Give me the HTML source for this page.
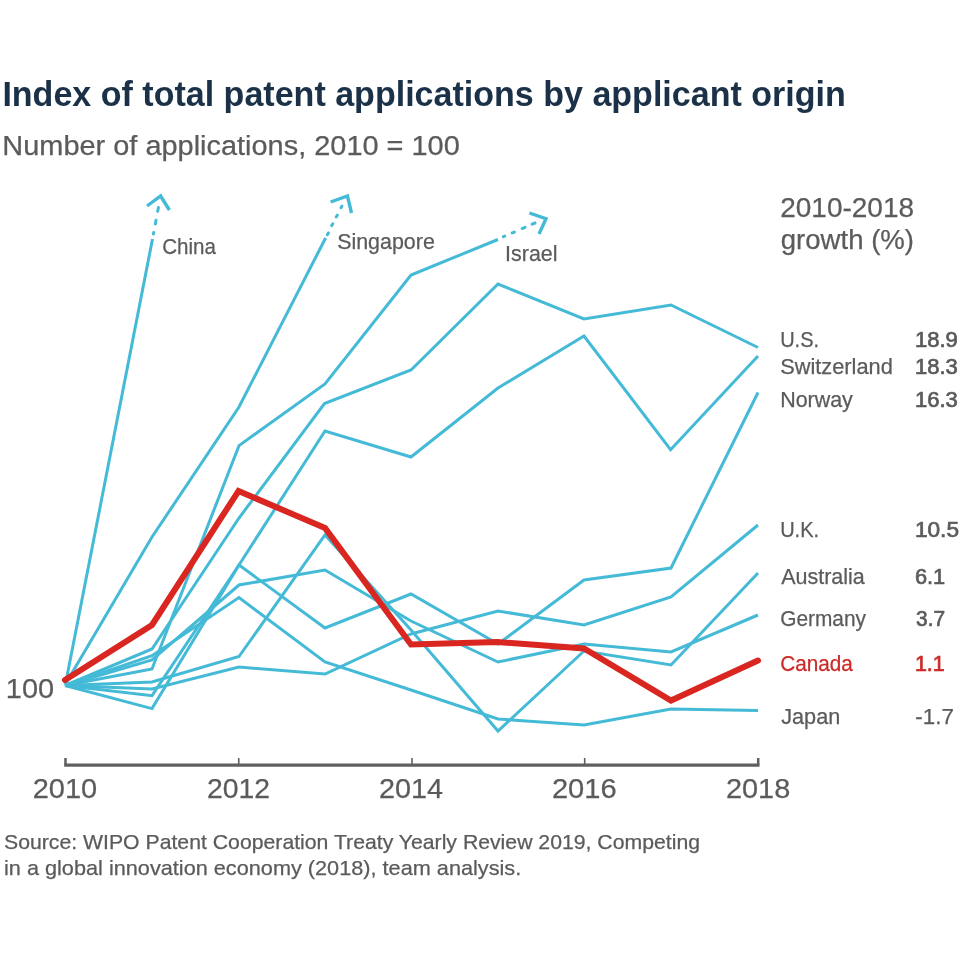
<!DOCTYPE html>
<html><head><meta charset="utf-8"><title>Index of total patent applications by applicant origin</title>
<style>html,body{margin:0;padding:0;background:#fff;width:960px;height:960px;overflow:hidden}svg{display:block;will-change:transform}text{font-family:"Liberation Sans",Arial,sans-serif}</style></head><body>
<svg width="960" height="960" viewBox="0 0 960 960">
<rect width="960" height="960" fill="#fff"/>
<path d="M64.2 765.2H759.5" stroke="#5f5f5f" stroke-width="3.2" fill="none"/>
<path d="M65.5 758V765" stroke="#5f5f5f" stroke-width="2.5" fill="none"/>
<path d="M238.75 758V765" stroke="#5f5f5f" stroke-width="1.6" fill="none"/>
<path d="M412 758V765" stroke="#5f5f5f" stroke-width="1.6" fill="none"/>
<path d="M584.7 758V765" stroke="#5f5f5f" stroke-width="1.6" fill="none"/>
<path d="M758.2 758V765" stroke="#5f5f5f" stroke-width="2.5" fill="none"/>
<g fill="none" stroke="#44bad7" stroke-width="3" stroke-linejoin="miter" stroke-linecap="butt">
<polyline points="65.5,684.0 152.5,239.0"/>
<polyline points="65.5,684.0 152.0,537.0 239.0,407.0 325.6,238.0"/>
<polyline points="65.0,685.5 152.0,669.0 239.0,445.6 325.0,384.0 411.0,275.0 498.0,239.5"/>
<polyline points="65.0,685.5 152.0,649.0 239.0,518.0 324.5,403.5 411.0,370.0 498.0,284.0 584.0,319.0 671.0,305.0 758.0,347.5"/>
<polyline points="65.0,685.5 152.0,695.7 239.0,565.0 325.0,431.0 411.0,457.0 498.0,388.0 584.0,336.0 670.6,449.7 758.0,356.0"/>
<polyline points="65.0,685.5 152.0,708.6 239.0,565.0 325.0,628.0 411.0,594.0 498.0,644.0 584.0,580.0 671.0,568.0 758.0,392.5"/>
<polyline points="65.0,685.5 152.0,689.0 239.0,667.0 325.0,674.0 411.0,634.0 498.0,611.0 584.0,625.0 671.0,597.0 758.0,525.0"/>
<polyline points="65.0,685.5 152.0,682.0 239.0,656.5 325.0,535.0 411.0,630.0 498.0,731.0 584.0,651.0 671.0,665.0 758.0,573.0"/>
<polyline points="65.0,685.5 152.0,660.0 239.0,585.0 325.0,570.0 411.0,621.0 498.0,662.0 584.0,644.0 671.0,652.0 758.0,615.0"/>
<polyline points="65.0,685.5 152.0,655.7 239.0,597.5 325.0,662.0 411.0,690.0 498.0,719.0 584.0,725.0 671.0,709.0 758.0,710.5"/>
<line x1="153.44" y1="234.02" x2="153.71" y2="232.58" stroke-linecap="round"/>
<line x1="155.33" y1="223.92" x2="156.02" y2="220.28" stroke-linecap="round"/>
<line x1="157.70" y1="211.32" x2="158.41" y2="207.58" stroke-linecap="round"/>
<line x1="327.31" y1="234.71" x2="328.49" y2="232.89" stroke-linecap="round"/>
<line x1="331.61" y1="225.61" x2="332.79" y2="223.79" stroke-linecap="round"/>
<line x1="336.21" y1="217.01" x2="337.39" y2="215.19" stroke-linecap="round"/>
<line x1="340.95" y1="207.77" x2="341.95" y2="206.03" stroke-linecap="round"/>
<line x1="503.39" y1="236.68" x2="504.71" y2="236.12" stroke-linecap="round"/>
<line x1="512.11" y1="232.94" x2="514.39" y2="232.06" stroke-linecap="round"/>
<line x1="522.11" y1="228.53" x2="525.04" y2="227.37" stroke-linecap="round"/>
<line x1="532.10" y1="224.21" x2="535.05" y2="222.99" stroke-linecap="round"/>
<polyline points="147.0,206.0 160.6,196.0 169.4,210.0" stroke-width="3.4"/>
<polyline points="330.6,202.0 347.5,196.0 351.5,213.0" stroke-width="3.4"/>
<polyline points="529.4,213.0 546.0,218.7 539.0,234.0" stroke-width="3.4"/>
</g>
<polyline points="65.0,680.0 152.0,625.0 238.5,491.0 325.0,528.0 411.0,644.5 497.0,642.0 584.0,648.5 671.0,700.5 758.0,660.5" fill="none" stroke="#da2620" stroke-width="6" stroke-linejoin="miter" stroke-linecap="round"/>
<text x="2.39" y="105.8" font-size="35.5" font-weight="700" fill="#1b3148" textLength="843.42" lengthAdjust="spacingAndGlyphs">Index of total patent applications by applicant origin</text>
<text x="2.39" y="154.5" font-size="27" font-weight="400" fill="#5b5b5b" stroke="#5b5b5b" stroke-width="0.25" textLength="457.42" lengthAdjust="spacingAndGlyphs">Number of applications, 2010 = 100</text>
<text x="780.19" y="216.7" font-size="27" font-weight="400" fill="#5b5b5b" stroke="#5b5b5b" stroke-width="0.25" textLength="133.83" lengthAdjust="spacingAndGlyphs">2010-2018</text>
<text x="780.77" y="249.2" font-size="27" font-weight="400" fill="#5b5b5b" stroke="#5b5b5b" stroke-width="0.25" textLength="133.26" lengthAdjust="spacingAndGlyphs">growth (%)</text>
<text x="162.19" y="254" font-size="22" font-weight="400" fill="#5b5b5b" stroke="#5b5b5b" stroke-width="0.25" textLength="53.80" lengthAdjust="spacingAndGlyphs">China</text>
<text x="337.17" y="248.8" font-size="22" font-weight="400" fill="#5b5b5b" stroke="#5b5b5b" stroke-width="0.25" textLength="97.65" lengthAdjust="spacingAndGlyphs">Singapore</text>
<text x="505.11" y="260.7" font-size="22" font-weight="400" fill="#5b5b5b" stroke="#5b5b5b" stroke-width="0.25" textLength="52.35" lengthAdjust="spacingAndGlyphs">Israel</text>
<text x="780.14" y="346.7" font-size="21.8" font-weight="400" fill="#5b5b5b" stroke="#5b5b5b" stroke-width="0.25" textLength="38.97" lengthAdjust="spacingAndGlyphs">U.S.</text>
<text x="780.18" y="373.5" font-size="21.8" font-weight="400" fill="#5b5b5b" stroke="#5b5b5b" stroke-width="0.25" textLength="112.65" lengthAdjust="spacingAndGlyphs">Switzerland</text>
<text x="780.18" y="406.5" font-size="21.8" font-weight="400" fill="#5b5b5b" stroke="#5b5b5b" stroke-width="0.25" textLength="72.64" lengthAdjust="spacingAndGlyphs">Norway</text>
<text x="780.14" y="537.1" font-size="21.8" font-weight="400" fill="#5b5b5b" stroke="#5b5b5b" stroke-width="0.25" textLength="38.97" lengthAdjust="spacingAndGlyphs">U.K.</text>
<text x="781.19" y="583.7" font-size="21.8" font-weight="400" fill="#5b5b5b" stroke="#5b5b5b" stroke-width="0.25" textLength="83.62" lengthAdjust="spacingAndGlyphs">Australia</text>
<text x="780.19" y="626.4" font-size="21.8" font-weight="400" fill="#5b5b5b" stroke="#5b5b5b" stroke-width="0.25" textLength="85.81" lengthAdjust="spacingAndGlyphs">Germany</text>
<text x="780.18" y="671.3" font-size="21.8" font-weight="400" fill="#cc2a27" stroke="#cc2a27" stroke-width="0.25" textLength="72.62" lengthAdjust="spacingAndGlyphs">Canada</text>
<text x="781.21" y="724.2" font-size="21.8" font-weight="400" fill="#5b5b5b" stroke="#5b5b5b" stroke-width="0.25" textLength="59.02" lengthAdjust="spacingAndGlyphs">Japan</text>
<text x="914.93" y="346.7" font-size="21.8" font-weight="400" fill="#5b5b5b" stroke="#5b5b5b" stroke-width="0.7" textLength="42.90" lengthAdjust="spacingAndGlyphs">18.9</text>
<text x="914.93" y="373.5" font-size="21.8" font-weight="400" fill="#5b5b5b" stroke="#5b5b5b" stroke-width="0.7" textLength="42.90" lengthAdjust="spacingAndGlyphs">18.3</text>
<text x="914.93" y="406.5" font-size="21.8" font-weight="400" fill="#5b5b5b" stroke="#5b5b5b" stroke-width="0.7" textLength="42.90" lengthAdjust="spacingAndGlyphs">16.3</text>
<text x="914.90" y="537.1" font-size="21.8" font-weight="400" fill="#5b5b5b" stroke="#5b5b5b" stroke-width="0.7" textLength="44.14" lengthAdjust="spacingAndGlyphs">10.5</text>
<text x="914.93" y="583.7" font-size="21.8" font-weight="400" fill="#5b5b5b" stroke="#5b5b5b" stroke-width="0.7" textLength="30.30" lengthAdjust="spacingAndGlyphs">6.1</text>
<text x="916.00" y="626.4" font-size="21.8" font-weight="400" fill="#5b5b5b" stroke="#5b5b5b" stroke-width="0.7" textLength="29.07" lengthAdjust="spacingAndGlyphs">3.7</text>
<text x="914.94" y="671.3" font-size="21.8" font-weight="400" fill="#cc2a27" stroke="#cc2a27" stroke-width="0.7" textLength="29.74" lengthAdjust="spacingAndGlyphs">1.1</text>
<text x="915.37" y="724.2" font-size="21.8" font-weight="400" fill="#5b5b5b" stroke="#5b5b5b" stroke-width="0.25" textLength="38.44" lengthAdjust="spacingAndGlyphs">-1.7</text>
<text x="5.86" y="698" font-size="28" font-weight="400" fill="#5b5b5b" stroke="#5b5b5b" stroke-width="0.25" textLength="48.21" lengthAdjust="spacingAndGlyphs">100</text>
<text x="32.76" y="797.5" font-size="28" font-weight="400" fill="#5b5b5b" stroke="#5b5b5b" stroke-width="0.25" textLength="64.46" lengthAdjust="spacingAndGlyphs">2010</text>
<text x="206.97" y="797.5" font-size="28" font-weight="400" fill="#5b5b5b" stroke="#5b5b5b" stroke-width="0.25" textLength="63.08" lengthAdjust="spacingAndGlyphs">2012</text>
<text x="378.94" y="797.5" font-size="28" font-weight="400" fill="#5b5b5b" stroke="#5b5b5b" stroke-width="0.25" textLength="64.08" lengthAdjust="spacingAndGlyphs">2014</text>
<text x="551.94" y="797.5" font-size="28" font-weight="400" fill="#5b5b5b" stroke="#5b5b5b" stroke-width="0.25" textLength="64.69" lengthAdjust="spacingAndGlyphs">2016</text>
<text x="725.96" y="797.5" font-size="28" font-weight="400" fill="#5b5b5b" stroke="#5b5b5b" stroke-width="0.25" textLength="64.28" lengthAdjust="spacingAndGlyphs">2018</text>
<text x="4.00" y="848.75" font-size="21" font-weight="400" fill="#5b5b5b" stroke="#5b5b5b" stroke-width="0.25" textLength="696.01" lengthAdjust="spacingAndGlyphs">Source: WIPO Patent Cooperation Treaty Yearly Review 2019, Competing</text>
<text x="3.99" y="875" font-size="21" font-weight="400" fill="#5b5b5b" stroke="#5b5b5b" stroke-width="0.25" textLength="517.22" lengthAdjust="spacingAndGlyphs">in a global innovation economy (2018), team analysis.</text>
</svg></body></html>
